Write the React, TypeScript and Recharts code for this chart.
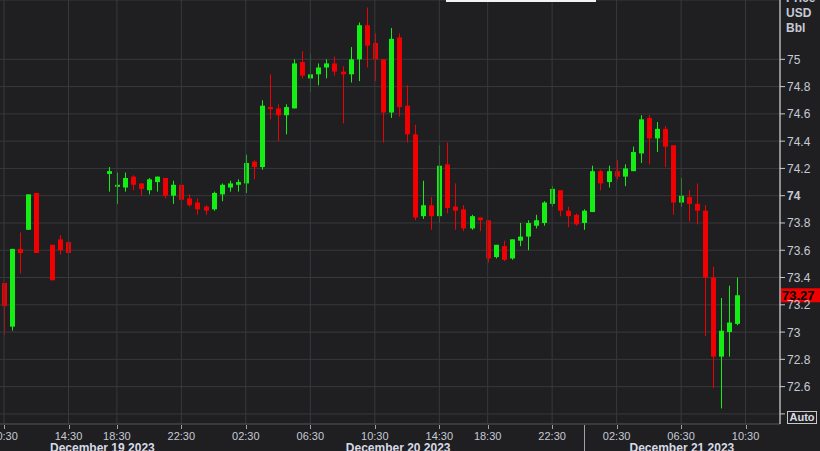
import { ComposedChart, Bar, XAxis, YAxis, CartesianGrid, ReferenceLine } from 'recharts'

// half-hour WTI candles, slot = position on the time axis (gaps = no data)
const slots = [
  0, 1, 2, 3, 4, 6, 7, 8,
  13, 14, 15, 16, 17, 18, 19, 20, 21, 22, 23, 24, 25, 26, 27, 28, 29, 30,
  31, 32, 33, 34, 35, 36, 37, 38, 39, 40, 41, 42, 43, 44, 45, 46, 47, 48, 49, 50,
  51, 52, 53, 54, 55, 56, 57, 58, 59, 60, 61, 62, 63, 64, 65, 66, 67, 68, 69, 70,
  71, 72, 73, 74, 75, 76, 77, 78, 79, 80, 81, 82, 83, 84, 85, 86, 87, 88, 89, 90, 91,
]
const open = [
  73.36, 73.04, 73.61, 73.75, 74.02, 73.64, 73.68, 73.66,
  74.16, 74.07, 74.06, 74.14, 74.09, 74.04, 74.1, 74.13, 74.0, 74.08, 73.98, 73.95, 73.92, 73.9, 74.01, 74.06, 74.08, 74.09,
  74.25, 74.21, 74.65, 74.64, 74.59, 74.64, 74.98, 74.86, 74.89, 74.94, 74.97, 74.91, 74.89, 75.0, 75.25, 75.12, 75.0, 74.61, 75.16, 74.66,
  74.45, 73.85, 73.93, 73.85, 74.23, 73.92, 73.9, 73.76, 73.84, 73.82, 73.55, 73.63, 73.54, 73.67, 73.7, 73.78, 73.8, 73.94, 74.04, 73.89,
  73.86, 73.8, 73.88, 74.18, 74.1, 74.18, 74.14, 74.18, 74.31, 74.57, 74.42, 74.49, 74.37, 73.95, 73.99, 73.94, 73.89, 73.4, 72.82, 73.0, 73.06,
]
const high = [
  73.36, 73.61, 73.73, 74.01, 74.02, 73.64, 73.71, 73.66,
  74.21, 74.17, 74.17, 74.15, 74.09, 74.13, 74.14, 74.13, 74.11, 74.08, 74.01, 73.98, 73.93, 74.03, 74.09, 74.11, 74.12, 74.3,
  74.26, 74.7, 74.89, 74.67, 74.67, 75.0, 75.06, 75.04, 74.97, 75.0, 75.02, 74.95, 75.09, 75.27, 75.38, 75.19, 75.0, 75.23, 75.19, 74.81,
  74.52, 74.11, 73.99, 74.37, 74.39, 74.09, 73.93, 73.86, 73.84, 73.82, 73.64, 73.67, 73.68, 73.8, 73.82, 73.86, 73.96, 74.07, 74.04, 73.92,
  73.87, 73.9, 74.22, 74.19, 74.22, 74.26, 74.23, 74.36, 74.59, 74.59, 74.54, 74.51, 74.37, 74.13, 74.04, 74.09, 73.93, 73.48, 73.25, 73.34, 73.4,
]
const low = [
  72.98, 73.01, 73.43, 73.75, 73.58, 73.38, 73.57, 73.28,
  74.03, 73.94, 74.03, 74.04, 74.0, 74.01, 74.03, 73.98, 73.94, 73.9, 73.92, 73.86, 73.86, 73.89, 73.96, 74.03, 74.03, 74.02,
  74.12, 74.19, 74.56, 74.4, 74.45, 74.64, 74.86, 74.76, 74.81, 74.86, 74.88, 74.53, 74.83, 74.84, 74.94, 74.84, 74.39, 74.57, 74.58, 74.39,
  73.82, 73.83, 73.75, 73.8, 73.87, 73.75, 73.74, 73.75, 73.74, 73.51, 73.54, 73.52, 73.53, 73.63, 73.6, 73.76, 73.78, 73.92, 73.85, 73.77,
  73.78, 73.75, 73.88, 74.04, 74.06, 74.12, 74.07, 74.18, 74.24, 74.23, 74.32, 74.21, 73.86, 73.92, 73.81, 73.79, 72.97, 72.59, 72.44, 72.82, 73.05,
]
const close = [
  73.19, 73.61, 73.58, 74.01, 73.58, 73.38, 73.6, 73.58,
  74.18, 74.08, 74.13, 74.08, 74.05, 74.12, 74.14, 74.0, 74.08, 73.97, 73.93, 73.9, 73.89, 74.02, 74.08, 74.09, 74.1, 74.24,
  74.21, 74.66, 74.64, 74.59, 74.65, 74.97, 74.88, 74.89, 74.94, 74.97, 74.91, 74.89, 75.0, 75.25, 75.1, 75.0, 74.61, 75.15, 74.65, 74.45,
  73.84, 73.93, 73.85, 74.22, 73.91, 73.89, 73.76, 73.85, 73.82, 73.54, 73.64, 73.53, 73.68, 73.7, 73.8, 73.82, 73.95, 74.05, 73.89, 73.85,
  73.79, 73.89, 74.18, 74.09, 74.18, 74.14, 74.2, 74.32, 74.56, 74.42, 74.49, 74.36, 73.95, 74.0, 73.94, 73.89, 73.4, 72.82, 73.01, 73.07, 73.27,
]

const timeTickSlots = [0, 8, 14, 22, 30, 38, 46, 54, 60, 68, 76, 84, 92]
const timeTickLabels = ['10:30', '14:30', '18:30', '22:30', '02:30', '06:30', '10:30', '14:30', '18:30', '22:30', '02:30', '06:30', '10:30']
const dateLabelSlots = [12.2, 48.9, 84.1]
const dateLabels = ['December 19 2023', 'December 20 2023', 'December 21 2023']
const dateBreakSlots = [72]
const priceTicks = [72.4, 72.6, 72.8, 73, 73.2, 73.4, 73.6, 73.8, 74, 74.2, 74.4, 74.6, 74.8, 75]
const lastPrice = 73.27

const GREEN = '#14ee14'
const RED = '#f00000'
const BG = '#1f1f21'
const GRID = '#38393b'
const TEXT = '#c6cad6'
const FONT = '"Liberation Sans", Arial, sans-serif'

const data = slots.map((s, k) => ({
  slot: s,
  o: open[k],
  h: high[k],
  l: low[k],
  c: close[k],
  range: [low[k], high[k]],
}))

function Candle(props: any) {
  const { x, y, width, height, payload } = props
  if (x == null || y == null) return null
  const top = Math.min(y, y + height)
  const bot = Math.max(y, y + height)
  const span = payload.h - payload.l
  const py = (v: number) => (span === 0 ? top : top + ((payload.h - v) / span) * (bot - top))
  const color = payload.c >= payload.o ? GREEN : RED
  const cx = Math.round(x + width / 2)
  const bTop = py(Math.max(payload.o, payload.c))
  const bBot = py(Math.min(payload.o, payload.c))
  return (
    <g>
      <line x1={cx + 0.5} x2={cx + 0.5} y1={top} y2={bot} stroke={color} strokeWidth={1} />
      <rect x={cx - 2} y={bTop} width={5} height={Math.max(2, bBot - bTop)} fill={color} />
    </g>
  )
}

function XTick(props: any) {
  const { x, y, payload } = props
  const v = payload.value
  const px = Math.round(x) + 0.5
  const ti = timeTickSlots.indexOf(v)
  if (ti >= 0) {
    return (
      <g>
        <line x1={px} x2={px} y1={y + 1} y2={y + 5} stroke="#9ea2ad" />
        <text x={x} y={y + 16} textAnchor="middle" fill={TEXT} fontSize={11} fontFamily={FONT}>
          {timeTickLabels[ti]}
        </text>
      </g>
    )
  }
  const di = dateLabelSlots.indexOf(v)
  if (di >= 0) {
    return (
      <text x={x} y={y + 28} textAnchor="middle" fill="#d6dae6" fontSize={12} fontWeight="bold" fontFamily={FONT}>
        {dateLabels[di]}
      </text>
    )
  }
  if (dateBreakSlots.includes(v)) {
    return <line x1={px} x2={px} y1={y + 1} y2={y + 27} stroke="#9ea2ad" />
  }
  return null
}

function YTick(props: any) {
  const { x, y, payload } = props
  const v = payload.value
  if (v === 72.4) return null
  return (
    <text x={x} y={y + 4.5} fill={TEXT} fontSize={12} fontWeight={v === 74 ? 'bold' : 'normal'} fontFamily={FONT}>
      {String(v)}
    </text>
  )
}

function LastTag(props: any) {
  const vb = props.viewBox
  if (!vb) return null
  const x = vb.x + vb.width + 1
  return (
    <g>
      <rect x={x} y={vb.y - 7} width={40} height={14} fill="#f00000" />
      <text x={x + 1} y={vb.y + 5} fill="#000" fontSize={13} fontWeight="bold" fontFamily={FONT}>
        {lastPrice.toFixed(2)}
      </text>
    </g>
  )
}

export default function App() {
  return (
    <div style={{ position: 'absolute', left: 0, top: 0, width: 820, height: 451, background: BG, overflow: 'hidden', fontFamily: FONT }}>
      <ComposedChart width={820} height={451} data={data} margin={{ top: 0, right: 0, left: 0, bottom: 0 }}>
        <CartesianGrid stroke={GRID} vertical={false} />
        {timeTickSlots.map((s) => (
          <ReferenceLine key={'v' + s} x={s} stroke={GRID} />
        ))}
        <XAxis
          dataKey="slot"
          type="number"
          domain={[-0.5, 96.27]}
          allowDataOverflow
          ticks={[...timeTickSlots, ...dateLabelSlots, ...dateBreakSlots]}
          interval={0}
          tick={<XTick />}
          tickLine={false}
          tickSize={0}
          tickMargin={0}
          axisLine={{ stroke: '#4a4b4e' }}
          height={27}
        />
        <YAxis
          orientation="right"
          type="number"
          domain={[72.326, 75.435]}
          allowDataOverflow
          ticks={priceTicks}
          interval={0}
          width={40}
          tickSize={5}
          tickMargin={2}
          tick={<YTick />}
          tickLine={{ stroke: '#c8c8c8' }}
          axisLine={{ stroke: '#ffffff' }}
        />
        <Bar dataKey="range" shape={<Candle />} isAnimationActive={false} barSize={6} />
        <ReferenceLine y={lastPrice} stroke="none" label={<LastTag />} />
      </ComposedChart>
      <div style={{ position: 'absolute', left: 786, top: -9, lineHeight: '15px', fontSize: 12, fontWeight: 'bold', color: TEXT }}>
        <div>Price</div>
        <div>USD</div>
        <div>Bbl</div>
      </div>
      <div style={{ position: 'absolute', left: 787, top: 411, width: 28, height: 11, border: '1px solid #c8c8c8', fontSize: 11, lineHeight: '11px', fontWeight: 'bold', color: '#d8dae2', textAlign: 'center' }}>
        Auto
      </div>
      <div style={{ position: 'absolute', left: 446, top: 0, width: 150, height: 2, background: '#f2f2f2' }} />
    </div>
  )
}
